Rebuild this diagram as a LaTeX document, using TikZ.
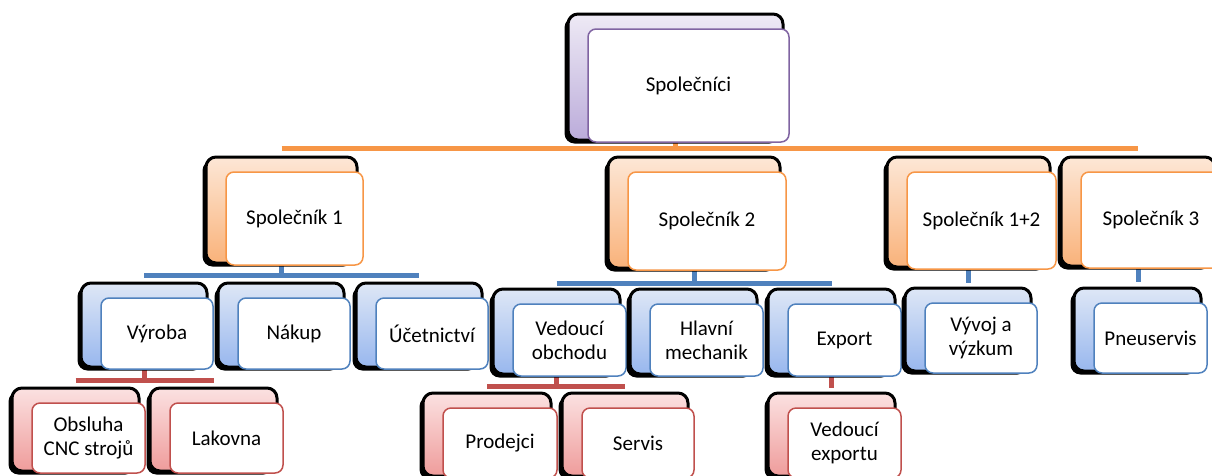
\documentclass[tikz,border=0pt]{standalone}
\usepackage{fontspec}
\setmainfont{Carlito}
\usetikzlibrary{shadows}
\pgfdeclarelayer{bg}
\pgfsetlayers{bg,main}
\definecolor{puL}{HTML}{EEEAF5}\definecolor{puD}{HTML}{BBABDA}\definecolor{puE}{HTML}{8064A2}
\definecolor{orL}{HTML}{FDE7D6}\definecolor{orD}{HTML}{F9B27A}\definecolor{orE}{HTML}{F79646}
\definecolor{blL}{HTML}{DEE7F6}\definecolor{blD}{HTML}{98B7EE}\definecolor{blE}{HTML}{4F81BD}
\definecolor{reL}{HTML}{FBE1E1}\definecolor{reD}{HTML}{EF9C9B}\definecolor{reE}{HTML}{C0504D}
\tikzset{
  frontbox/.style={draw=#1, line width=1.5pt, fill=white, rounded corners=8pt,
    inner sep=0pt, align=center, font=\fontsize{21}{24}\selectfont},
  backbox/.style 2 args={draw=black, line width=3pt, top color=#1, bottom color=#2,
    rounded corners=10pt, inner sep=0pt,
    drop shadow={shadow xshift=-3.5pt, shadow yshift=-3.5pt, opacity=1, fill=black}},
  bar/.style={draw=#1, line width=5pt},
}
\newcommand\orgbox[7]{%
  \pgfmathsetmacro\obw{#4-#2+14}%
  \pgfmathsetmacro\obh{#5-#3+13}%
  \pgfmathsetmacro\obx{(#2+#4)/2-13}%
  \pgfmathsetmacro\oby{(#3+#5)/2-8.5}%
  \pgfmathsetmacro\ofw{#4-#2}%
  \pgfmathsetmacro\ofh{#5-#3}%
  \pgfmathsetmacro\ofx{(#2+#4)/2}%
  \pgfmathsetmacro\ofy{(#3+#5)/2}%
  \node[backbox={#6L}{#6D}, minimum width=\obw pt, minimum height=\obh pt] (b#1) at (\obx,\oby) {};
  \node[frontbox=#6E, minimum width=\ofw pt, minimum height=\ofh pt] (#1) at (\ofx,\ofy) {#7};
}
\begin{document}
\begin{tikzpicture}[x=1pt,y=-1pt]
\useasboundingbox (0,0) rectangle (1212,475);
\clip (0,0) rectangle (1212,475);
% level 0
\orgbox{top}{588}{29}{789}{142}{pu}{Společníci}
% level 1
\orgbox{sa}{226}{172}{363}{265}{or}{Společník 1}
\orgbox{sb}{628}{172}{786}{270}{or}{Společník 2}
\orgbox{sab}{907}{172}{1056}{269}{or}{Společník 1+2}
\orgbox{sc}{1081}{172}{1221}{268}{or}{Společník 3}
% level 2
\orgbox{vyroba}{101}{298}{213}{369}{bl}{Výroba}
\orgbox{nakup}{238}{298}{350}{369}{bl}{Nákup}
\orgbox{ucet}{376}{298}{488}{369}{bl}{Účetnictví}
\orgbox{vedob}{513}{304}{626}{376}{bl}{Vedoucí\\obchodu}
\orgbox{hlavni}{650}{304}{763}{376}{bl}{Hlavní\\mechanik}
\orgbox{export}{788}{304}{901}{376}{bl}{Export}
\orgbox{vyvoj}{925}{303}{1037}{373}{bl}{Vývoj a\\výzkum}
\orgbox{pneu}{1094}{303}{1207}{373}{bl}{Pneuservis}
% level 3
\orgbox{obsluha}{32}{403}{145}{473}{re}{Obsluha\\CNC strojů}
\orgbox{lakovna}{170}{403}{283}{473}{re}{Lakovna}
\orgbox{prodejci}{443}{408}{557}{478}{re}{Prodejci}
\orgbox{servis}{582}{408}{694}{478}{re}{Servis}
\orgbox{vedexp}{788}{408}{901}{478}{re}{Vedoucí\\exportu}
% junctions
\coordinate (jO) at (676,148);
\coordinate (jB1) at (283,275);
\coordinate (jB2) at (694,283);
\coordinate (jB3) at (969,283);
\coordinate (jB4) at (1138,282);
\coordinate (jR1) at (144,380);
\coordinate (jR2) at (557,386);
\coordinate (jR3) at (832,388);
\begin{pgfonlayer}{bg}
  \draw[bar=orE] (btop.center) -- (btop.center |- jO);
  \draw[bar=orE] (bsa.center |- jO) -- (bsc.center |- jO);
  \draw[bar=blE] (bsa.center) -- (bsa.center |- jB1);
  \draw[bar=blE] (bvyroba.center |- jB1) -- (bucet.center |- jB1);
  \draw[bar=blE] (bsb.center) -- (bsb.center |- jB2);
  \draw[bar=blE] (bvedob.center |- jB2) -- (bexport.center |- jB2);
  \draw[bar=blE] (bsab.center) -- (bsab.center |- jB3);
  \draw[bar=blE] (bsc.center) -- (bsc.center |- jB4);
  \draw[bar=reE] (bvyroba.center) -- (bvyroba.center |- jR1);
  \draw[bar=reE] (bobsluha.center |- jR1) -- (blakovna.center |- jR1);
  \draw[bar=reE] (bvedob.center) -- (bvedob.center |- jR2);
  \draw[bar=reE] (bprodejci.center |- jR2) -- (bservis.center |- jR2);
  \draw[bar=reE] (bexport.center) -- (bexport.center |- jR3);
\end{pgfonlayer}
\end{tikzpicture}
\end{document}
